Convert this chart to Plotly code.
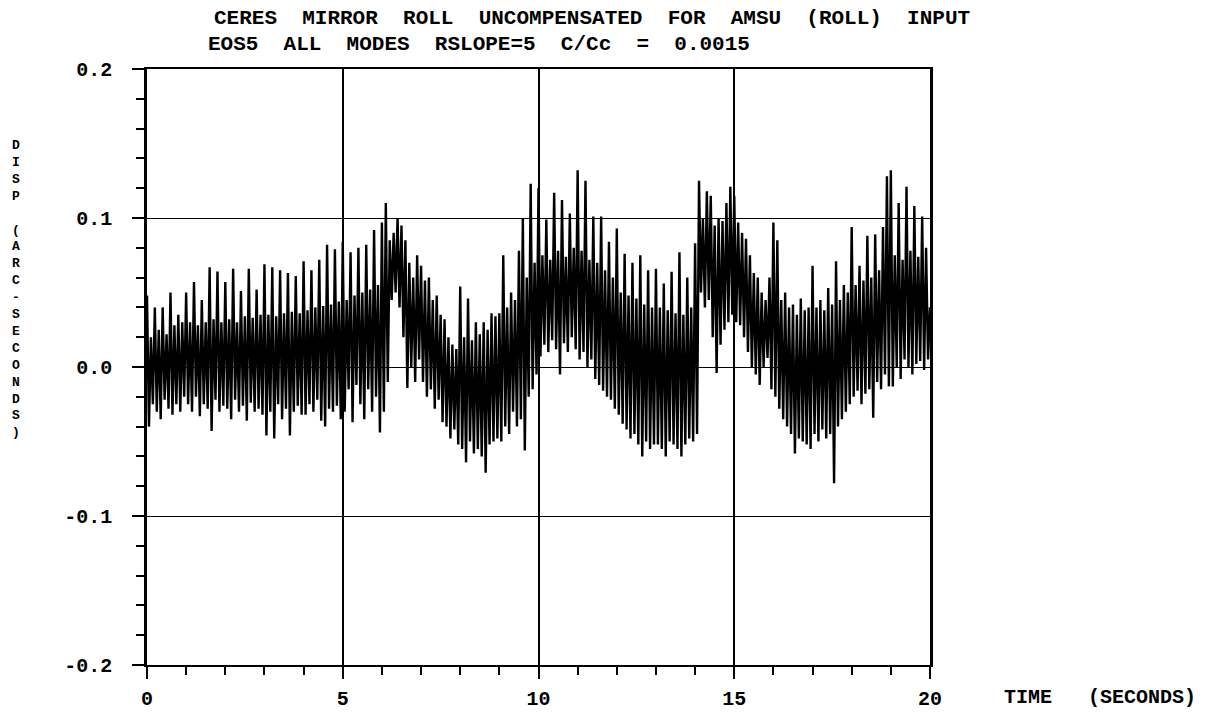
import plotly.graph_objects as go

# ---- data: displacement (arc-seconds) sampled every 0.05 s, alternating local highs / lows ----
disp_0_5 = [
    0.048, -0.040, 0.020, -0.025, 0.040, -0.030, 0.025, -0.035, 0.040, -0.022, 0.022, -0.028, 0.050, -0.032, 0.028, -0.025, 0.035, -0.030, 0.030, -0.020,
    0.050, -0.025, 0.030, -0.030, 0.057, -0.020, 0.028, -0.033, 0.045, -0.025, 0.030, -0.028, 0.067, -0.043, 0.032, -0.022, 0.064, -0.030, 0.030, -0.026,
    0.057, -0.028, 0.032, -0.035, 0.066, -0.022, 0.030, -0.030, 0.051, -0.026, 0.034, -0.036, 0.066, -0.024, 0.033, -0.030, 0.052, -0.028, 0.035, -0.032,
    0.069, -0.046, 0.035, -0.030, 0.067, -0.048, 0.034, -0.025, 0.065, -0.035, 0.036, -0.028, 0.063, -0.046, 0.037, -0.030, 0.061, -0.026, 0.036, -0.032,
    0.071, -0.032, 0.038, -0.025, 0.065, -0.030, 0.040, -0.022, 0.072, -0.036, 0.041, -0.040, 0.082, -0.028, 0.042, -0.030, 0.079, -0.026, 0.044, -0.035,
]
disp_5_10 = [
    0.084, -0.030, 0.045, -0.015, 0.077, -0.037, 0.048, -0.012, 0.080, -0.025, 0.050, -0.035, 0.082, -0.015, 0.052, -0.030, 0.092, -0.020, 0.055, -0.044,
    0.097, -0.030, 0.110, -0.010, 0.085, 0.045, 0.090, 0.050, 0.100, 0.040, 0.095, 0.020, 0.085, -0.014, 0.070, 0.000, 0.060, -0.010, 0.075, 0.005,
    0.068, -0.010, 0.058, -0.020, 0.060, -0.015, 0.045, -0.028, 0.048, -0.022, 0.035, -0.037, 0.032, -0.040, 0.020, -0.048, 0.015, -0.042, 0.012, -0.052,
    0.054, -0.055, 0.020, -0.064, 0.046, -0.050, 0.018, -0.058, 0.030, -0.055, 0.022, -0.060, 0.030, -0.071, 0.025, -0.052, 0.036, -0.050, 0.034, -0.048,
    0.036, -0.050, 0.075, -0.040, 0.040, -0.045, 0.050, -0.030, 0.045, -0.040, 0.078, -0.035, 0.100, -0.056, 0.060, -0.020, 0.123, -0.015, 0.070, -0.005,
]
disp_10_15 = [
    0.120, 0.007, 0.075, 0.015, 0.099, 0.010, 0.072, 0.018, 0.117, 0.012, 0.078, -0.005, 0.112, 0.016, 0.074, 0.010, 0.103, 0.020, 0.080, 0.012,
    0.132, 0.005, 0.078, 0.010, 0.125, 0.000, 0.072, 0.005, 0.101, -0.008, 0.070, -0.012, 0.101, -0.016, 0.065, -0.020, 0.084, -0.022, 0.060, -0.028,
    0.093, -0.032, 0.050, -0.038, 0.076, -0.042, 0.048, -0.048, 0.070, -0.045, 0.046, -0.052, 0.075, -0.060, 0.042, -0.050, 0.065, -0.055, 0.040, -0.052,
    0.066, -0.052, 0.040, -0.055, 0.056, -0.060, 0.038, -0.050, 0.064, -0.052, 0.036, -0.055, 0.077, -0.060, 0.035, -0.052, 0.060, -0.048, 0.040, -0.050,
    0.083, -0.045, 0.125, 0.050, 0.100, 0.040, 0.118, 0.045, 0.115, 0.020, 0.095, -0.004, 0.100, 0.015, 0.098, 0.025, 0.110, 0.030, 0.121, 0.035,
]
disp_15_20 = [
    0.115, 0.030, 0.097, 0.028, 0.090, 0.020, 0.086, 0.010, 0.075, 0.000, 0.063, -0.005, 0.060, -0.012, 0.050, 0.000, 0.045, 0.006, 0.060, -0.015,
    0.097, -0.020, 0.085, -0.028, 0.045, -0.035, 0.050, -0.040, 0.040, -0.045, 0.042, -0.058, 0.035, -0.048, 0.046, -0.050, 0.038, -0.052, 0.040, -0.055,
    0.068, -0.045, 0.040, -0.050, 0.045, -0.042, 0.038, -0.048, 0.053, -0.045, 0.042, -0.078, 0.071, -0.040, 0.045, -0.035, 0.055, -0.030, 0.050, -0.025,
    0.094, -0.020, 0.055, -0.016, 0.068, -0.025, 0.058, -0.018, 0.088, -0.015, 0.060, -0.034, 0.089, -0.010, 0.065, -0.015, 0.094, -0.005, 0.128, -0.013,
    0.132, -0.013, 0.075, 0.000, 0.110, -0.008, 0.072, 0.005, 0.121, 0.000, 0.078, -0.005, 0.108, 0.002, 0.074, 0.004, 0.101, -0.002, 0.080, 0.005,
    0.040,
]
sample_step = 0.05

x_tickvals = [0, 5, 10, 15, 20]
x_ticktext = ["0", "5", "10", "15", "20"]
y_tickvals = [-0.2, -0.1, 0.0, 0.1, 0.2]
y_ticktext = ["-0.2", "-0.1", "0.0", "0.1", "0.2"]

title_line1 = "CERES  MIRROR  ROLL  UNCOMPENSATED  FOR  AMSU  (ROLL)  INPUT"
title_line2 = "EOS5  ALL  MODES  RSLOPE=5  C/Cc  =  0.0015"
y_title = "DISP (ARC-SECONDS)"
x_title = "TIME   (SECONDS)"

disp = disp_0_5 + disp_5_10 + disp_10_15 + disp_15_20
time_s = [round(i * sample_step, 2) for i in range(len(disp))]

# ---- layout geometry (pixels) ----
W, H = 1210, 712
ML, MR, MT, MB = 147, 280, 69, 47
PW = W - ML - MR
PH = H - MT - MB


def pxx(px):
    return (px - ML) / PW


def pxy(py):
    return (H - MB - py) / PH


FONT = "Liberation Mono, Courier New, monospace"

fig = go.Figure()
fig.add_trace(go.Scatter(
    x=time_s, y=disp, mode="lines",
    line=dict(color="black", width=2.4),
    showlegend=False, hoverinfo="skip",
))

axis_common = dict(
    showline=True, linecolor="black", mirror=True,
    showgrid=True, gridcolor="black",
    zeroline=False, ticks="outside", tickcolor="black", automargin=False,
    tickfont=dict(family=FONT, size=20, color="black", weight="bold"),
)

fig.update_xaxes(
    **axis_common,
    range=[0, 20], tickvals=x_tickvals, ticktext=x_ticktext,
    linewidth=2, gridwidth=1.8, ticklen=12, tickwidth=2,
    ticklabelstandoff=2,
    minor=dict(dtick=1, ticks="outside", ticklen=8, tickwidth=2, tickcolor="black", showgrid=False),
)
fig.update_yaxes(
    **axis_common,
    range=[-0.2, 0.2], tickvals=y_tickvals, ticktext=y_ticktext,
    linewidth=2.5, gridwidth=1.3, ticklen=12, tickwidth=2,
    ticklabelstandoff=16,
    minor=dict(dtick=0.02, ticks="outside", ticklen=8, tickwidth=2, tickcolor="black", showgrid=False),
)

# vertical stacked y-axis title, one character per line
y_title_stacked = "<br>".join(ch if ch != " " else " " for ch in y_title)

annotations = [
    dict(text=title_line1, x=pxx(592), y=pxy(18), xref="paper", yref="paper",
         showarrow=False, xanchor="center", yanchor="middle",
         font=dict(family=FONT, size=21, color="black", weight="bold")),
    dict(text=title_line2, x=pxx(479), y=pxy(44), xref="paper", yref="paper",
         showarrow=False, xanchor="center", yanchor="middle",
         font=dict(family=FONT, size=21, color="black", weight="bold")),
    dict(text=x_title, x=pxx(1100), y=pxy(697), xref="paper", yref="paper",
         showarrow=False, xanchor="center", yanchor="middle",
         font=dict(family=FONT, size=20, color="black", weight="bold")),
    dict(text=y_title_stacked, x=pxx(16), y=pxy(289), xref="paper", yref="paper",
         showarrow=False, xanchor="center", yanchor="middle", align="center",
         font=dict(family=FONT, size=13, color="black", weight="bold")),
]

fig.update_layout(
    width=W, height=H,
    margin=dict(l=ML, r=MR, t=MT, b=MB, pad=0, autoexpand=False),
    paper_bgcolor="white", plot_bgcolor="white",
    annotations=annotations,
    showlegend=False,
)

fig.write_html("out.html")
